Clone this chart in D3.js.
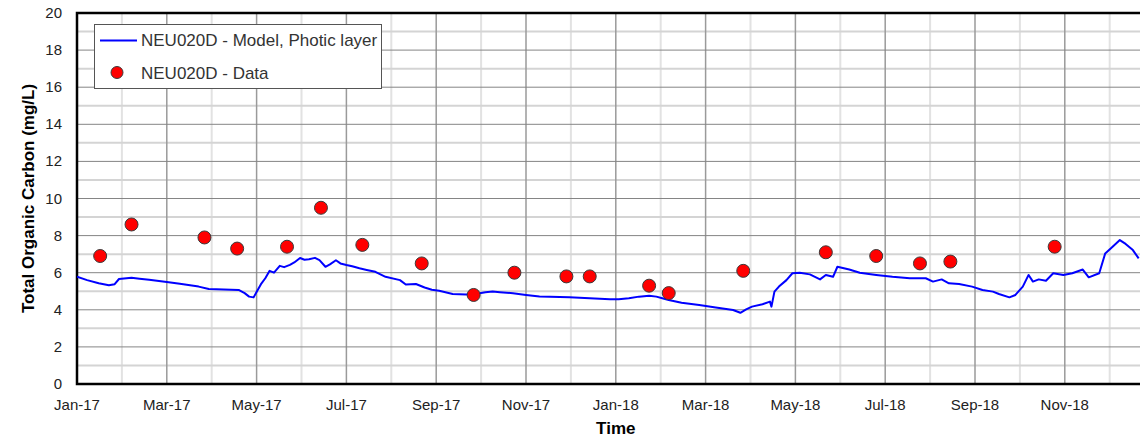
<!DOCTYPE html>
<html>
<head>
<meta charset="utf-8">
<script src="https://cdn.jsdelivr.net/npm/d3@7"></script>
<style>
	html, body { margin: 0; padding: 0; background: #fff; }
	svg { display: block; font-family: "Liberation Sans", Arial, sans-serif; }
	.tick-label { font-size: 15px; fill: #222; }
	.axis-title { font-size: 17px; font-weight: bold; fill: #000; }
	.legend-text { font-size: 17px; fill: #333; }
</style>
</head>
<body>
<svg id="chart" width="1140" height="439"></svg>
<script>
const xTickLabels = ["Jan-17", "Mar-17", "May-17", "Jul-17", "Sep-17", "Nov-17",
	"Jan-18", "Mar-18", "May-18", "Jul-18", "Sep-18", "Nov-18"];
const yTicks = [0, 2, 4, 6, 8, 10, 12, 14, 16, 18, 20];

const modelDates = [
	"2017-01-01", "2017-01-08", "2017-01-16", "2017-01-23", "2017-01-27", "2017-01-30",
	"2017-02-07", "2017-02-12", "2017-02-18", "2017-03-01", "2017-03-10", "2017-03-23",
	"2017-03-30", "2017-04-09", "2017-04-19", "2017-04-23", "2017-04-26", "2017-04-29",
	"2017-05-04", "2017-05-07", "2017-05-10", "2017-05-13", "2017-05-17", "2017-05-20",
	"2017-05-24", "2017-05-27", "2017-05-31", "2017-06-03", "2017-06-06", "2017-06-10",
	"2017-06-13", "2017-06-17", "2017-06-20", "2017-06-24", "2017-06-27", "2017-07-01",
	"2017-07-05", "2017-07-10", "2017-07-15", "2017-07-21", "2017-07-28", "2017-08-07",
	"2017-08-11", "2017-08-18", "2017-08-24", "2017-08-29", "2017-09-03", "2017-09-12",
	"2017-09-21", "2017-09-30", "2017-10-04", "2017-10-09", "2017-10-14", "2017-10-23",
	"2017-11-01", "2017-11-10", "2017-11-17", "2017-11-30", "2017-12-14", "2017-12-28",
	"2018-01-03", "2018-01-10", "2018-01-17", "2018-01-24", "2018-01-29", "2018-02-02",
	"2018-02-06", "2018-02-14", "2018-02-25", "2018-03-08", "2018-03-20", "2018-03-25",
	"2018-03-29", "2018-04-02", "2018-04-09", "2018-04-14", "2018-04-15", "2018-04-17",
	"2018-04-20", "2018-04-25", "2018-04-29", "2018-05-04", "2018-05-11", "2018-05-18",
	"2018-05-22", "2018-05-27", "2018-05-30", "2018-06-07", "2018-06-14", "2018-06-25",
	"2018-07-06", "2018-07-18", "2018-07-29", "2018-08-03", "2018-08-09", "2018-08-14",
	"2018-08-21", "2018-08-30", "2018-09-06", "2018-09-13", "2018-09-17", "2018-09-24",
	"2018-09-28", "2018-10-03", "2018-10-07", "2018-10-10", "2018-10-14", "2018-10-19",
	"2018-10-24", "2018-10-31", "2018-11-06", "2018-11-13", "2018-11-17", "2018-11-24",
	"2018-11-28", "2018-12-03", "2018-12-08", "2018-12-12", "2018-12-17", "2018-12-21"
];
const modelValues = [
	5.78, 5.6, 5.43, 5.32, 5.38, 5.66,
	5.73, 5.68, 5.62, 5.5, 5.4, 5.25,
	5.12, 5.1, 5.07, 4.9, 4.71, 4.67,
	5.38, 5.7, 6.1, 6.0, 6.37, 6.3,
	6.42, 6.55, 6.79, 6.7, 6.72, 6.8,
	6.68, 6.32, 6.45, 6.67, 6.5, 6.42,
	6.35, 6.24, 6.15, 6.05, 5.78, 5.6,
	5.36, 5.39, 5.2, 5.08, 5.03, 4.85,
	4.82, 4.89, 4.95, 4.98, 4.95, 4.89,
	4.8, 4.72, 4.71, 4.67, 4.62, 4.57,
	4.57, 4.62, 4.71, 4.76, 4.71, 4.62,
	4.53, 4.38, 4.26, 4.13, 3.99, 3.84,
	4.02, 4.17, 4.3, 4.44, 4.17, 4.98,
	5.25, 5.6, 5.97, 6.0, 5.91, 5.64,
	5.88, 5.78, 6.32, 6.17, 6.0, 5.88,
	5.78, 5.7, 5.7, 5.52, 5.64, 5.43,
	5.39, 5.25, 5.07, 4.98, 4.85, 4.67,
	4.8, 5.25, 5.88, 5.52, 5.64, 5.57,
	5.97, 5.88, 5.97, 6.17, 5.75, 5.97,
	7.04, 7.4, 7.76, 7.55, 7.22, 6.77
];

const sampleDates = [
	"2017-01-17", "2017-02-07", "2017-03-27", "2017-04-18", "2017-05-22", "2017-06-14",
	"2017-07-12", "2017-08-22", "2017-09-26", "2017-10-24", "2017-11-28", "2017-12-14",
	"2018-01-24", "2018-02-06", "2018-03-27", "2018-05-22", "2018-06-25", "2018-07-25",
	"2018-08-15", "2018-10-25"
];
const sampleValues = [
	6.9, 8.6, 7.9, 7.3, 7.4, 9.5,
	7.5, 6.5, 4.8, 6.0, 5.8, 5.8,
	5.3, 4.9, 6.1, 7.1, 6.9, 6.5,
	6.6, 7.4
];

// month position, months are spaced evenly on this axis
function monthIndex(s) {
	const [y, m, d] = s.split("-").map(Number);
	const days = new Date(y, m, 0).getDate();
	return (y - 2017) * 12 + (m - 1) + (d - 1) / days;
}

const svg = d3.select("#chart");
const margin = { top: 13, left: 77 };

const x = d3.scaleLinear().domain([0, 24]).range([margin.left, margin.left + 24 * 44.9]);
const y = d3.scaleLinear().domain([0, 20]).range([384, margin.top]);

const plotRight = x(24);

svg.append("defs")
	.append("clipPath")
	.attr("id", "plot-clip")
	.append("rect")
	.attr("x", margin.left)
	.attr("y", margin.top)
	.attr("width", plotRight - margin.left)
	.attr("height", y(0) - margin.top);

const grid = svg.append("g");

// minor grid first
grid.selectAll(".vminor")
	.data(d3.range(1, 24, 2))
	.join("line")
	.attr("x1", (d) => x(d))
	.attr("x2", (d) => x(d))
	.attr("y1", y(20))
	.attr("y2", y(0))
	.attr("stroke", "#e2e2e2")
	.attr("stroke-width", 2);

grid.selectAll(".hminor")
	.data(d3.range(1, 20, 2))
	.join("line")
	.attr("x1", margin.left)
	.attr("x2", plotRight)
	.attr("y1", (d) => y(d))
	.attr("y2", (d) => y(d))
	.attr("stroke", "#d4d4d4")
	.attr("stroke-width", 2);

grid.selectAll(".vmajor")
	.data(d3.range(2, 24, 2))
	.join("line")
	.attr("x1", (d) => x(d))
	.attr("x2", (d) => x(d))
	.attr("y1", y(20))
	.attr("y2", y(0))
	.attr("stroke", "#9a9a9a")
	.attr("stroke-width", 1.5);

grid.selectAll(".hmajor")
	.data(yTicks.slice(1, -1))
	.join("line")
	.attr("x1", margin.left)
	.attr("x2", plotRight)
	.attr("y1", (d) => y(d))
	.attr("y2", (d) => y(d))
	.attr("stroke", "#858585")
	.attr("stroke-width", 1);

// frame
svg.append("rect")
	.attr("x", margin.left)
	.attr("y", margin.top)
	.attr("width", plotRight - margin.left)
	.attr("height", y(0) - margin.top)
	.attr("fill", "none")
	.attr("stroke", "#000")
	.attr("stroke-width", 2.5);

// model line
const modelSeries = modelDates.map((d, i) => ({ m: monthIndex(d), value: modelValues[i] }));

const lineGen = d3
	.line()
	.x((d) => x(d.m))
	.y((d) => y(d.value));

svg.append("path")
	.datum(modelSeries)
	.attr("clip-path", "url(#plot-clip)")
	.attr("fill", "none")
	.attr("stroke", "#0000ff")
	.attr("stroke-width", 2)
	.attr("stroke-linejoin", "round")
	.attr("d", lineGen);

// sample points
const samples = sampleDates.map((d, i) => ({ m: monthIndex(d), value: sampleValues[i] }));

svg.selectAll(".point")
	.data(samples)
	.join("circle")
	.attr("class", "point")
	.attr("cx", (d) => x(d.m))
	.attr("cy", (d) => y(d.value))
	.attr("r", 6.5)
	.attr("fill", "#ff0000")
	.attr("stroke", "#3a3a3a")
	.attr("stroke-width", 1);

// axis labels
svg.selectAll(".ylab")
	.data(yTicks)
	.join("text")
	.attr("class", "tick-label")
	.attr("x", 62)
	.attr("y", (d) => y(d) + 5)
	.attr("text-anchor", "end")
	.text((d) => d);

svg.selectAll(".xlab")
	.data(xTickLabels)
	.join("text")
	.attr("class", "tick-label")
	.attr("x", (d, i) => x(i * 2))
	.attr("y", 410)
	.attr("text-anchor", "middle")
	.text((d) => d);

svg.append("text")
	.attr("class", "axis-title")
	.attr("x", (margin.left + plotRight) / 2)
	.attr("y", 434)
	.attr("text-anchor", "middle")
	.text("Time");

svg.append("text")
	.attr("class", "axis-title")
	.attr("transform", `translate(34, ${(y(0) + y(20)) / 2}) rotate(-90)`)
	.attr("text-anchor", "middle")
	.text("Total Organic Carbon (mg/L)");

// legend
const legend = svg.append("g");

legend.append("rect")
	.attr("x", 94.5)
	.attr("y", 24.5)
	.attr("width", 287)
	.attr("height", 64)
	.attr("fill", "#fff")
	.attr("stroke", "#555")
	.attr("stroke-width", 1);

legend.append("line")
	.attr("x1", 100)
	.attr("x2", 137)
	.attr("y1", 40.5)
	.attr("y2", 40.5)
	.attr("stroke", "#0000ff")
	.attr("stroke-width", 2);

legend.append("text")
	.attr("class", "legend-text")
	.attr("x", 141)
	.attr("y", 46)
	.text("NEU020D - Model, Photic layer");

legend.append("circle")
	.attr("cx", 117)
	.attr("cy", 72.5)
	.attr("r", 6)
	.attr("fill", "#ff0000")
	.attr("stroke", "#3a3a3a")
	.attr("stroke-width", 1);

legend.append("text")
	.attr("class", "legend-text")
	.attr("x", 141)
	.attr("y", 78.5)
	.text("NEU020D - Data");
</script>
</body>
</html>
